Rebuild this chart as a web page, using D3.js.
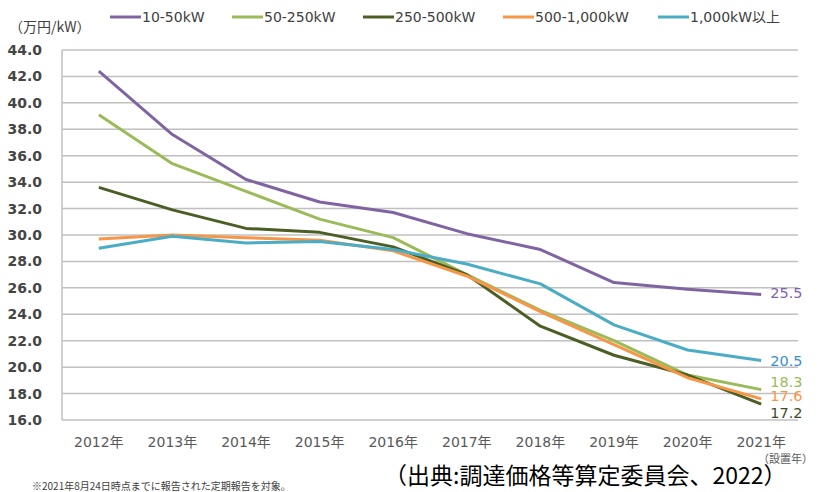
<!DOCTYPE html>
<html><head><meta charset="utf-8">
<script src="https://cdn.jsdelivr.net/npm/d3@7"></script>
<style>
body{margin:0;background:#fff;}
svg{display:block;font-family:"DejaVu Sans","Noto Sans CJK JP",sans-serif;}
</style></head>
<body><svg id="c" width="821" height="492"></svg>
<script>
const years = ["2012年","2013年","2014年","2015年","2016年","2017年","2018年","2019年","2020年","2021年"];
const seriesNames = ["10-50kW","50-250kW","250-500kW","500-1,000kW","1,000kW以上"];
const s10_50 =    [42.4,37.6,34.2,32.5,31.7,30.1,28.9,26.4,25.9,25.5];
const s50_250 =   [39.1,35.4,33.3,31.2,29.8,27.0,24.3,22.0,19.4,18.3];
const s250_500 =  [33.6,31.9,30.5,30.2,29.1,27.0,23.1,20.9,19.4,17.2];
const s500_1000 = [29.7,30.0,29.8,29.6,28.8,26.9,24.2,21.7,19.2,17.6];
const s1000 =     [29.0,29.9,29.4,29.5,28.9,27.8,26.3,23.2,21.3,20.5];
const endLabels = ["25.5","18.3","17.2","17.6","20.5"];
const yTicks = [16,18,20,22,24,26,28,30,32,34,36,38,40,42,44];

const colors = ["#8064a2","#9bbb59","#4a5e25","#f79646","#4bacc6"];
const labelColors = ["#7f62a8","#9bbb59","#3f4a2c","#f79646","#3b8fd4"];
const labelDy = [-2,-8,9,-3,0];
const allSeries = [s10_50,s50_250,s250_500,s500_1000,s1000];

const svg = d3.select("#c");
const L=62,R=798,T=50,B=420;
const x = d3.scaleBand().domain(years).range([L,R]).padding(0);
const xc = d => x(d)+x.bandwidth()/2;
const y = d3.scaleLinear().domain([16,44]).range([B,T]);

// gridlines
svg.append("g").selectAll("line").data(yTicks).join("line")
  .attr("x1",L).attr("x2",R).attr("y1",d=>y(d)).attr("y2",d=>y(d))
  .attr("stroke","#c0c0c0").attr("stroke-width",1.5);
svg.append("line").attr("x1",L).attr("x2",L).attr("y1",T).attr("y2",B)
  .attr("stroke","#c0c0c0").attr("stroke-width",1.5);

// y axis labels
const ya = svg.append("g").attr("transform",`translate(${L-17},0)`)
  .call(d3.axisLeft(y).tickValues(yTicks).tickFormat(d3.format(".1f")).tickSize(0));
ya.select(".domain").remove();
ya.selectAll("text").attr("font-size",14).attr("font-weight","bold").attr("fill","#454545")
  .attr("font-family","'DejaVu Sans',sans-serif").attr("dx",0);

// x axis labels
const xa = svg.append("g").attr("transform",`translate(0,${B+14})`)
  .call(d3.axisBottom(x).tickSize(0));
xa.select(".domain").remove();
xa.selectAll("text").attr("font-size",14).attr("fill","#595959")
  .attr("font-family","'DejaVu Sans','Noto Sans CJK JP',sans-serif");

// lines
const line = d3.line().x((d,i)=>xc(years[i])).y(d=>y(d));
svg.append("g").selectAll("path").data(allSeries).join("path")
  .attr("d",line).attr("fill","none")
  .attr("stroke",(d,i)=>colors[i]).attr("stroke-width",3).attr("stroke-linejoin","round");

// end labels
svg.append("g").selectAll("text").data(allSeries).join("text")
  .attr("x",xc(years[9])+9).attr("y",(d,i)=>y(d[9])+labelDy[i])
  .attr("dy","0.35em").attr("font-size",14.5).attr("fill",(d,i)=>labelColors[i])
  .text((d,i)=>endLabels[i]);

// legend
const legX = [110,232,363,503,658];
const lg = svg.append("g").selectAll("g").data(seriesNames).join("g")
  .attr("transform",(d,i)=>`translate(${legX[i]},17)`);
lg.append("line").attr("x1",0).attr("x2",31).attr("stroke",(d,i)=>colors[i]).attr("stroke-width",3);
lg.append("text").attr("x",32).attr("dy","0.35em").attr("font-size",14).attr("fill","#404040")
  .attr("font-family","'DejaVu Sans','Noto Sans CJK JP',sans-serif").text(d=>d);

svg.append("text").attr("x",9).attr("y",27).attr("dy","0.35em").attr("font-size",14)
  .attr("fill","#404040").attr("font-family","'Noto Sans CJK JP',sans-serif").text("（万円/kW）");

svg.append("text").attr("x",813).attr("y",459).attr("dy","0.35em").attr("font-size",11)
  .attr("fill","#595959").attr("text-anchor","end")
  .attr("font-family","'Noto Sans CJK JP',sans-serif").text("（設置年）");

svg.append("text").attr("x",32).attr("y",486).attr("dy","0.35em").attr("font-size",10)
  .attr("fill","#404040").attr("font-family","'Noto Sans CJK JP',sans-serif")
  .text("※2021年8月24日時点までに報告された定期報告を対象。");

svg.append("text").attr("x",384).attr("y",476).attr("dy","0.35em").attr("font-size",23)
  .attr("fill","#000").attr("font-family","'Noto Sans CJK JP',sans-serif")
  .text("（出典:調達価格等算定委員会、2022）");
</script></body></html>
